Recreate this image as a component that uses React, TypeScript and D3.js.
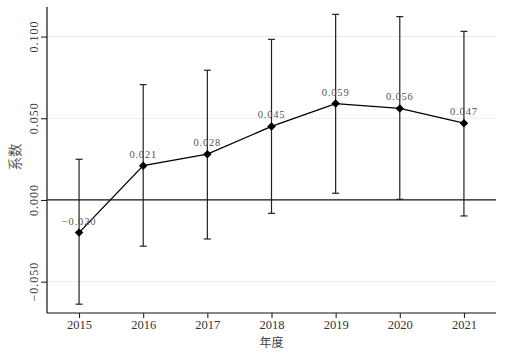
import React, { useEffect, useRef } from 'react';
import * as d3 from 'd3';

// 年度回归系数及置信区间
const years = [2015, 2016, 2017, 2018, 2019, 2020, 2021];
const coef = [-0.02, 0.021, 0.028, 0.045, 0.059, 0.056, 0.047];
const lower = [-0.0638, -0.0283, -0.0239, -0.0082, 0.0041, 0.0004, -0.0098];
const upper = [0.0249, 0.0706, 0.0794, 0.0983, 0.1136, 0.1122, 0.1032];
const yTicks = [-0.05, 0, 0.05, 0.1];

const W = 532;
const H = 353;
const serif = '"Liberation Serif", "DejaVu Serif", serif';
const cjk = '"Noto Sans CJK SC", sans-serif';

export default function App() {
  const svgRef = useRef<SVGSVGElement>(null);

  useEffect(() => {
    const svg = d3.select(svgRef.current);
    svg.selectAll('*').remove();

    const left = 47, right = 496, top = 7, bottom = 313;
    const x = d3.scaleLinear().domain([2014.5, 2021.5]).range([left, right]);
    const y = d3.scaleLinear().domain([-0.0692, 0.1181]).range([bottom, top]);
    const fmt = d3.format('.3f');

    svg.append('rect').attr('width', W).attr('height', H).attr('fill', 'white');

    // 网格线
    svg
      .append('g')
      .selectAll('line')
      .data(yTicks.filter((d) => d !== 0))
      .join('line')
      .attr('x1', left)
      .attr('x2', right)
      .attr('y1', (d) => y(d))
      .attr('y2', (d) => y(d))
      .attr('stroke', '#ececec')
      .attr('stroke-width', 1);

    // 零线
    svg
      .append('line')
      .attr('x1', left)
      .attr('x2', right)
      .attr('y1', y(0))
      .attr('y2', y(0))
      .attr('stroke', '#111')
      .attr('stroke-width', 1.2);

    // Y 轴
    const yAxis = svg
      .append('g')
      .attr('transform', `translate(${left},0)`)
      .call(d3.axisLeft(y).tickValues(yTicks).tickSize(6).tickFormat(() => ''));
    yAxis.select('.domain').attr('d', `M0,${top}V${bottom}`).attr('stroke', '#111').attr('stroke-width', 1.2);
    yAxis.selectAll('.tick line').attr('stroke', '#111');

    svg
      .append('g')
      .selectAll('text')
      .data(yTicks)
      .join('text')
      .attr('transform', (d) => `translate(38,${y(d)}) rotate(-90)`)
      .attr('text-anchor', 'middle')
      .attr('font-family', serif)
      .attr('font-size', 12)
      .attr('letter-spacing', 1)
      .attr('fill', '#333')
      .text((d) => fmt(d));

    // X 轴
    const xAxis = svg
      .append('g')
      .attr('transform', `translate(0,${bottom})`)
      .call(d3.axisBottom(x).tickValues(years).tickSize(5).tickFormat(d3.format('d')));
    xAxis.select('.domain').attr('d', `M${left},0H${right}`).attr('stroke', '#111').attr('stroke-width', 1.2);
    xAxis.selectAll('.tick line').attr('stroke', '#111');
    xAxis
      .selectAll('.tick text')
      .attr('font-family', serif)
      .attr('font-size', 12.5)
      .attr('fill', '#333')
      .attr('y', 7)
      .attr('dy', '0.71em');

    svg
      .append('text')
      .attr('x', x(2018))
      .attr('y', 347)
      .attr('text-anchor', 'middle')
      .attr('font-family', cjk)
      .attr('font-size', 12)
      .attr('fill', '#444')
      .text('年度');

    svg
      .append('text')
      .attr('transform', `translate(20,157) rotate(-90)`)
      .attr('text-anchor', 'middle')
      .attr('font-family', cjk)
      .attr('font-size', 13.5)
      .attr('fill', '#555')
      .text('系数');

    // 置信区间
    const bars = svg.append('g').attr('stroke', '#222').attr('stroke-width', 1.2);
    years.forEach((yr, i) => {
      const cx = x(yr);
      bars.append('line').attr('x1', cx).attr('x2', cx).attr('y1', y(lower[i])).attr('y2', y(upper[i]));
      bars.append('line').attr('x1', cx - 3.5).attr('x2', cx + 3.5).attr('y1', y(lower[i])).attr('y2', y(lower[i]));
      bars.append('line').attr('x1', cx - 3.5).attr('x2', cx + 3.5).attr('y1', y(upper[i])).attr('y2', y(upper[i]));
    });

    // 折线
    const line = d3
      .line<number>()
      .x((d, i) => x(years[i]))
      .y((d) => y(d));
    svg
      .append('path')
      .datum(coef)
      .attr('fill', 'none')
      .attr('stroke', '#000')
      .attr('stroke-width', 1.3)
      .attr('d', line);

    // 菱形标记
    const diamond = d3.symbol(d3.symbolSquare, 36);
    svg
      .append('g')
      .selectAll('path')
      .data(coef)
      .join('path')
      .attr('d', diamond)
      .attr('transform', (d, i) => `translate(${x(years[i])},${y(d)}) rotate(45)`)
      .attr('fill', '#000');

    // 数值标签
    svg
      .append('g')
      .selectAll('text')
      .data(coef)
      .join('text')
      .attr('x', (d, i) => x(years[i]))
      .attr('y', (d) => y(d) - 8)
      .attr('text-anchor', 'middle')
      .attr('font-family', serif)
      .attr('font-size', 10.5)
      .attr('letter-spacing', 0.8)
      .attr('fill', '#555')
      .text((d) => fmt(d));
  }, []);

  return (
    <svg
      ref={svgRef}
      width={W}
      height={H}
      style={{ position: 'absolute', left: 0, top: 0 }}
    />
  );
}
